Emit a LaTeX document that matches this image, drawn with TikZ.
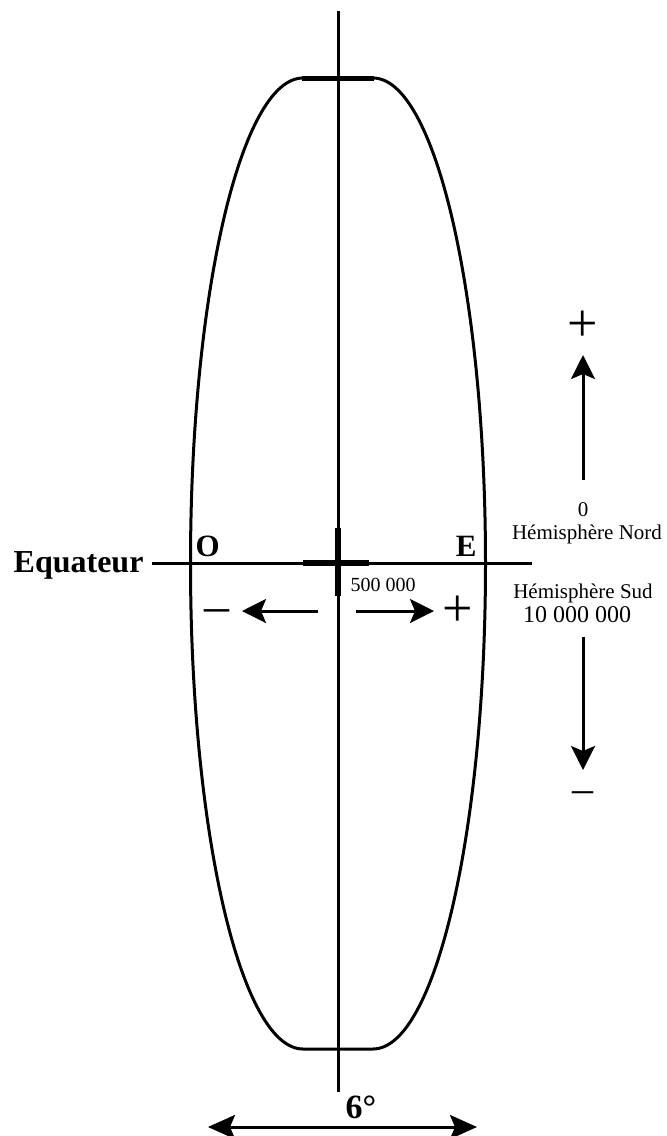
\documentclass[tikz,border=0pt]{standalone}
\usepackage{fontspec}
\setmainfont{Liberation Serif}
\usetikzlibrary{arrows.meta}

\begin{document}
\begin{tikzpicture}[
        x=1pt, y=-1pt,
        line width=3pt,
        >={Stealth[length=24pt, width=24pt, inset=5pt]},
        lbl/.style={inner sep=0pt, anchor=base},
        sign/.style={inner sep=0pt, font=\fontsize{54}{54}\selectfont},
        minus/.style={inner sep=0pt, anchor=base},
        halfarc/.style={x radius=112.5, y radius=485.5}
    ]
    \useasboundingbox (0,0) rectangle (667,1136);

    % meridien central et equateur
    \coordinate (mer n) at (338,11);
    \coordinate (mer s) at (338,1092);
    \coordinate (eq w) at (152,563);
    \coordinate (eq e) at (532,563);
    \draw (mer n) -- (mer s);
    \draw (eq w) -- (eq e);
    \draw[line width=6pt] (303,563) -- (369,563);
    \draw[line width=6pt] (338,528) -- (338,596);

    % fuseau
    \draw (303,78) -- (373,78)
        arc[start angle=-90, end angle=90, halfarc]
        -- (303,1049)
        arc[start angle=90, end angle=270, halfarc] -- cycle;
    \draw[line width=5pt] (302,78) -- (374,78);

    % textes
    \node[lbl, anchor=base east, font=\bfseries\fontsize{32}{32}\selectfont] (equateur) at (145,572) {Equateur};
    \node[lbl, anchor=base west, font=\bfseries\fontsize{31}{31}\selectfont] (ouest) at (194,556) {O};
    \node[lbl, anchor=base east, font=\bfseries\fontsize{31}{31}\selectfont] (est) at (478,556) {E};
    \node[lbl, anchor=base west, font=\fontsize{20}{20}\selectfont] (origine) at (349,591) {500 000};
    \node[lbl, font=\fontsize{21}{21}\selectfont] (zero) at (583,516) {0};
    \node[lbl, font=\fontsize{21}{21}\selectfont] (nord) at (587,539) {Hémisphère Nord};
    \node[lbl, font=\fontsize{21}{21}\selectfont] (sud) at (583,598) {Hémisphère Sud};
    \node[lbl, font=\fontsize{24}{24}\selectfont] (dixmillions) at (577,622) {10 000 000};
    \node[lbl, anchor=base west, font=\bfseries\fontsize{34}{34}\selectfont] (angle) at (344,1118) {6°};

    % signes
    \node[sign] (plus e) at (458,611) {+};
    \node[sign] (plus n) at (583,326) {+};
    \node[minus, font=\fontsize{50}{50}\selectfont] (moins w) at (216.5,622) {–};
    \node[minus, font=\fontsize{42}{42}\selectfont] (moins s) at (583,802) {–};

    % fleches
    \coordinate (fw a) at (318,611);
    \coordinate (fw b) at (242,611);
    \coordinate (fe a) at (356,611);
    \coordinate (fe b) at (434,611);
    \coordinate (fn a) at (583,480);
    \coordinate (fn b) at (583,355);
    \coordinate (fs a) at (583,637);
    \coordinate (fs b) at (583,770);
    \coordinate (lg w) at (208,1127);
    \coordinate (lg e) at (477,1127);
    \draw[->] (fw a) -- (fw b);
    \draw[->] (fe a) -- (fe b);
    \draw[->] (fn a) -- (fn b);
    \draw[->] (fs a) -- (fs b);
    \draw[<->, >={Stealth[length=27pt, width=24pt, inset=5pt]}] (lg w) -- (lg e);
\end{tikzpicture}
\end{document}
